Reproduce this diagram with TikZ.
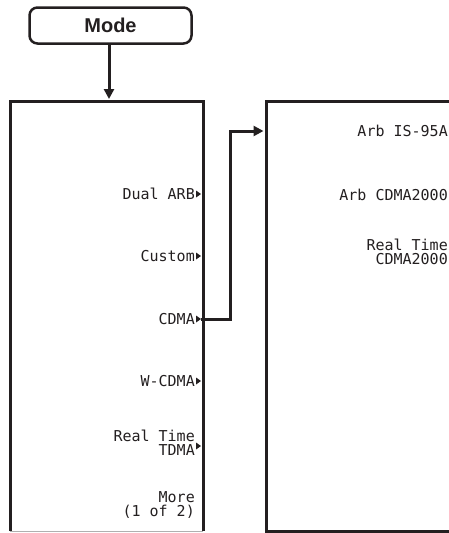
\documentclass[tikz,border=0pt]{standalone}
\usepackage{fontspec}
\usetikzlibrary{positioning,arrows.meta,calc}
\newfontfamily\lcd{DejaVu Sans Mono}
\newfontfamily\hw{Liberation Sans}
\definecolor{ink}{HTML}{231F20}
\definecolor{rim}{HTML}{B0B0B0}
\tikzset{
  frame/.style={draw=ink, line width=3pt},
  hardkey/.style={draw=ink, line width=2.5pt, rounded corners=8pt,
    minimum width=162pt, minimum height=36pt, inner sep=0pt,
    font=\hw\fontsize{20pt}{22pt}\selectfont\bfseries, text=ink},
  softkey/.style={anchor=east, inner sep=0pt, align=right, text=ink,
    font=\lcd\fontsize{15pt}{14pt}\selectfont},
  link/.style={-{Triangle[length=10pt,width=10pt]}, line width=3pt, color=ink},
}
% kleines Dreieck hinter einem Softkey
\newcommand{\keymark}[1]{\fill[ink] (#1) ++(1,-3.5) -- ++(5,3.5) -- ++(-5,3.5) -- cycle;}

\begin{document}
\begin{tikzpicture}[x=1pt, y=-1pt]
    \useasboundingbox (0,0) rectangle (449,533);
    \node[hardkey] (mode) at (110.5,25.5) {Mode};
    % linkes Menue
    \draw[frame] (10,531) |- (203,101) -- (203,531);
    \draw[rim, line width=1pt] (10,531) -- (203,531);
    \coordinate (menutop) at (109,99);
    \draw[link] (mode.south -| menutop) -- (menutop);
    \node[softkey] (k1) at (195,194) {Dual ARB};
    \node[softkey] (k2) at (195,256) {Custom};
    \node[softkey] (k3) at (195,319) {CDMA};
    \node[softkey] (k4) at (195,381) {W-CDMA};
    \node[softkey] (k5) at (195,443) {Real Time\\TDMA};
    \node[softkey] (k6) at (195,505) {More\\(1 of 2)};
    \keymark{k1.east}
    \keymark{k2.east}
    \keymark{k3.east}
    \keymark{k4.east}
    \keymark{k5.east |- 0,446}
    % CDMA Untermenue
    \node[frame, anchor=north west, minimum width=200pt, minimum height=430pt] (sub) at (265,100) {};
    \node[softkey] (s1) at (448,131) {Arb IS-95A};
    \node[softkey] (s2) at (448,195) {Arb CDMA2000};
    \node[softkey] (s3) at (448,252) {Real Time\\CDMA2000};
    \coordinate (cdmaout) at ([xshift=6pt]k3.east);
    \coordinate (subin) at (sub.west |- s1);
    \draw[link] (cdmaout) -- ++(29,0) |- ([xshift=-1.5pt]subin);
  \end{tikzpicture}
\end{document}
